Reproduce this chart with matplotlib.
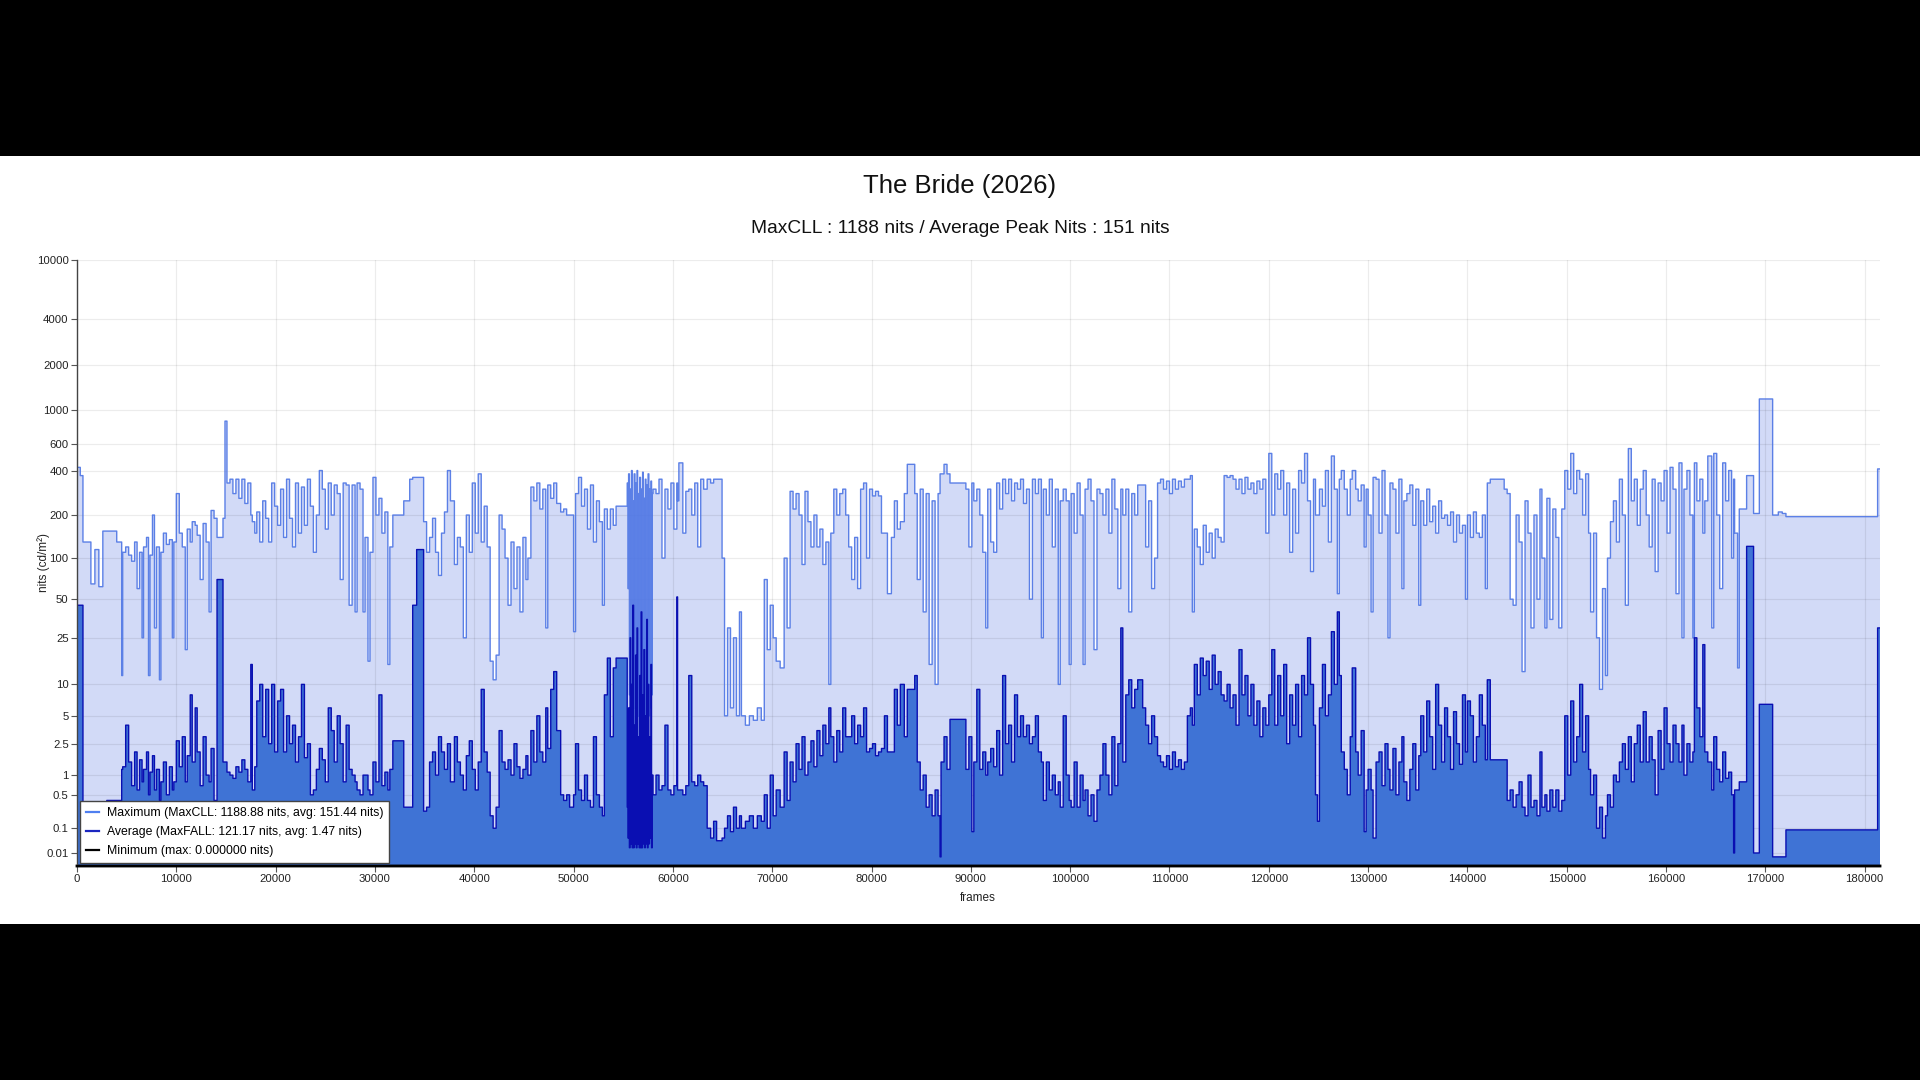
import numpy as np
import matplotlib
matplotlib.use("Agg")
import matplotlib.pyplot as plt
from matplotlib.lines import Line2D
from matplotlib.patches import Rectangle
from matplotlib.ticker import NullLocator

plt.rcParams['font.family'] = ['Liberation Sans', 'DejaVu Sans']

TITLE = "The Bride (2026)"
SUBTITLE = "MaxCLL : 1188 nits / Average Peak Nits : 151 nits"
LEGEND_LABELS = ["Maximum (MaxCLL: 1188.88 nits, avg: 151.44 nits)",
                 "Average (MaxFALL: 121.17 nits, avg: 1.47 nits)",
                 "Minimum (max: 0.000000 nits)"]
Y_TICKS = [0.01, 0.1, 0.5, 1, 2.5, 5, 10, 25, 50, 100, 200, 400, 600, 1000, 2000, 4000, 10000]
Y_TICK_LABELS = ["0.01", "0.1", "0.5", "1", "2.5", "5", "10", "25", "50", "100", "200",
                 "400", "600", "1000", "2000", "4000", "10000"]
X_TICKS = [0, 10000, 20000, 30000, 40000, 50000, 60000, 70000, 80000, 90000, 100000,
           110000, 120000, 130000, 140000, 150000, 160000, 170000, 180000]
LAST_FRAME = 181540

# ---- section A : frames 0 - 38600 ----
frames_a = [0, 330, 600, 1400, 1800, 2200, 2600, 3000, 4000, 4500,
            4600, 4900, 5200, 5500, 5800, 6050, 6300, 6550, 6700, 7000,
            7200, 7350, 7600, 7800, 8000, 8300, 8450, 8700, 9000, 9300,
            9600, 9750, 10000, 10300, 10600, 10900, 11100, 11400, 11600, 11900,
            12100, 12400, 12700, 13000, 13300, 13500, 13800, 14100, 14700, 14900,
            15100, 15400, 15700, 16000, 16300, 16600, 16900, 17200, 17500, 17650,
            17900, 18100, 18400, 18700, 19000, 19300, 19600, 19900, 20200, 20500,
            20800, 21100, 21400, 21700, 22000, 22300, 22600, 22900, 23200, 23500,
            23800, 24100, 24400, 24700, 25000, 25300, 25600, 25900, 26200, 26500,
            26800, 27100, 27400, 27700, 28000, 28200, 28500, 28800, 29000, 29300,
            29500, 29800, 30100, 30400, 30700, 31000, 31300, 31500, 31800, 32900,
            33500, 33800, 34200, 34900, 35200, 35500, 35800, 36100, 36400, 36700,
            37000, 37300, 37600, 38000, 38300]
max_a = [420, 370, 130, 65, 115, 62, 155, 155, 130, 12,
         110, 120, 105, 95, 130, 60, 110, 25, 120, 140,
         12, 105, 200, 30, 120, 11, 110, 150, 125, 135,
         25, 130, 280, 150, 120, 20, 160, 130, 180, 170,
         145, 70, 175, 130, 40, 215, 190, 140, 190, 850,
         330, 350, 280, 350, 260, 350, 240, 330, 200, 180,
         150, 210, 130, 250, 190, 130, 330, 230, 170, 300,
         140, 350, 190, 120, 330, 150, 310, 170, 350, 230,
         110, 200, 400, 300, 160, 330, 200, 320, 280, 70,
         330, 320, 45, 320, 40, 330, 300, 40, 140, 16,
         110, 360, 200, 260, 150, 210, 15, 120, 200, 250,
         350, 360, 360, 180, 110, 140, 190, 110, 75, 150,
         210, 400, 250, 90, 140]
avg_a = [45, 45, 0.05, 0.05, 0.05, 0.05, 0.05, 0.4, 0.4, 1.2,
         1.3, 4, 1.5, 0.7, 2, 0.6, 1.6, 0.8, 1.2, 2,
         0.5, 1.1, 1.8, 0.6, 1.2, 0.4, 0.8, 1.5, 0.5, 1.3,
         0.6, 0.8, 2.7, 1.3, 3, 0.8, 1.8, 8, 1.5, 6,
         2, 0.7, 3, 1, 0.8, 2.2, 0.4, 70, 1.5, 1.5,
         1.1, 1, 0.9, 1.3, 1.1, 1.6, 1.2, 0.8, 15, 0.6,
         1.3, 7, 10, 3, 9, 2.5, 10, 2, 7, 9,
         2, 5, 2.5, 4, 1.5, 3, 10, 1.7, 2.5, 0.5,
         0.6, 1.2, 2.2, 1.6, 0.8, 6, 3.5, 1.5, 5, 2.5,
         0.8, 4, 1.2, 1, 0.8, 0.6, 0.5, 1, 1, 0.6,
         0.5, 1.5, 0.8, 8, 0.7, 1.1, 0.6, 1.2, 2.7, 0.3,
         0.3, 45, 115, 0.25, 0.3, 1.5, 2, 1, 3, 2,
         1.2, 2.5, 0.8, 3, 1.5]

# ---- section B1 : frames 38600 - 55400 ----
frames_b1 = [38600, 38900, 39200, 39500, 39800, 40100, 40400, 40700, 41000, 41300,
             41600, 41900, 42200, 42500, 42800, 43100, 43400, 43700, 44000, 44300,
             44600, 44900, 45200, 45400, 45700, 46000, 46300, 46600, 46900, 47200,
             47400, 47700, 48000, 48300, 48700, 49000, 49300, 49600, 50000, 50200,
             50500, 50800, 51100, 51400, 51700, 52000, 52300, 52600, 52900, 53100,
             53400, 53700, 54000, 54280]
max_b1 = [120, 25, 200, 110, 330, 150, 380, 130, 230, 120,
          16, 11, 18, 200, 160, 100, 45, 130, 60, 120,
          40, 140, 70, 100, 310, 250, 330, 220, 300, 30,
          320, 260, 330, 240, 210, 220, 200, 200, 28, 280,
          360, 230, 300, 160, 320, 130, 250, 180, 45, 220,
          160, 220, 170, 230]
avg_b1 = [1.0, 0.6, 1.8, 2.7, 1.2, 0.6, 1.5, 9, 2, 1.1,
          0.2, 0.1, 0.3, 3.5, 1.5, 1.2, 1.6, 1.0, 2.5, 1.3,
          0.9, 1.2, 1.8, 1.0, 3.5, 1.5, 5, 2, 1.5, 6,
          2.2, 9, 13, 3.5, 0.5, 0.4, 0.5, 0.3, 0.5, 2.5,
          0.6, 0.4, 1.0, 0.4, 0.3, 3, 0.5, 0.3, 0.2, 8,
          17, 3, 14, 17]

# ---- strobe section : frames 55400 - 58000 ----
frames_s = [55400, 55480, 55540, 55620, 55690, 55750, 55830, 55900, 55960, 56040,
            56100, 56180, 56240, 56310, 56390, 56450, 56520, 56600, 56660, 56740,
            56800, 56870, 56950, 57010, 57080, 57160, 57220, 57290, 57370, 57430,
            57500, 57580, 57640, 57710, 57790, 57850, 57920]
max_s = [330, 60, 380, 8, 300, 5, 400, 3, 250, 6,
         380, 4, 330, 3, 400, 5, 280, 3, 360, 4,
         300, 3, 390, 5, 260, 3, 350, 4, 320, 3,
         380, 5, 300, 6, 340, 8, 280]
avg_s = [0.3, 0.05, 6, 0.02, 25, 0.03, 10, 0.02, 45, 0.02,
         4, 0.03, 18, 0.02, 30, 0.03, 3, 0.02, 12, 0.02,
         40, 0.02, 8, 0.03, 20, 0.02, 5, 0.03, 35, 0.02,
         10, 0.03, 3, 0.05, 15, 0.02, 1]

# ---- section B2 : frames 58000 - 77700 ----
frames_b2 = [58000, 58300, 58600, 58900, 59200, 59500, 59800, 60100, 60400, 60470,
             60600, 61000, 61300, 61600, 61900, 62200, 62500, 62800, 63100, 63450,
             63800, 64100, 64400, 64950, 65200, 65500, 65800, 66100, 66400, 66700,
             66900, 67300, 67700, 68100, 68500, 68900, 69200, 69500, 69800, 70100,
             70400, 70800, 71200, 71500, 71800, 72100, 72400, 72700, 73000, 73300,
             73600, 73900, 74200, 74500, 74800, 75100, 75400, 75700, 75900, 76200,
             76500, 76800, 77100, 77400]
max_b2 = [300, 280, 350, 100, 300, 220, 330, 160, 330, 250,
          450, 150, 290, 300, 200, 330, 120, 350, 300, 350,
          330, 350, 350, 100, 5, 30, 6, 25, 5, 40,
          5, 4, 5, 4.5, 6, 4.5, 70, 20, 45, 25,
          16, 14, 100, 30, 290, 220, 280, 200, 90, 290,
          180, 120, 200, 120, 160, 90, 130, 10, 150, 300,
          200, 280, 300, 200]
avg_b2 = [0.5, 1.0, 0.6, 0.7, 4, 0.6, 0.5, 0.7, 52, 0.6,
          0.6, 0.5, 0.7, 12, 0.8, 0.7, 1.0, 0.8, 0.7, 0.1,
          0.05, 0.15, 0.04, 0.05, 0.1, 0.2, 0.08, 0.3, 0.1, 0.2,
          0.1, 0.15, 0.2, 0.1, 0.2, 0.15, 0.5, 0.1, 1.0, 0.2,
          0.6, 0.3, 2, 0.4, 1.5, 0.8, 2.5, 1.2, 3, 1.0,
          1.5, 2.7, 1.3, 3.5, 1.8, 4, 2.5, 6, 3, 1.5,
          3.5, 2, 6, 3]

# ---- section C : frames 77700 - 116700 ----
frames_c = [77700, 78000, 78300, 78600, 78900, 79200, 79500, 79800, 80100, 80400,
            80700, 81000, 81300, 81600, 82000, 82300, 82600, 82900, 83300, 83600,
            84350, 84600, 84900, 85200, 85500, 85800, 86100, 86400, 86700, 86900,
            87000, 87300, 87600, 87900, 89500, 89800, 90100, 90300, 90600, 90900,
            91200, 91500, 91700, 92000, 92300, 92600, 92900, 93200, 93500, 93800,
            94100, 94400, 94700, 95000, 95300, 95600, 95900, 96200, 96500, 96800,
            97100, 97300, 97600, 97900, 98200, 98500, 98800, 99000, 99300, 99600,
            99900, 100100, 100400, 100700, 101000, 101300, 101500, 101800, 102100, 102400,
            102700, 103000, 103300, 103600, 103900, 104200, 104500, 104800, 105100, 105300,
            105600, 105900, 106200, 106500, 106800, 107300, 107600, 107900, 108200, 108500,
            108800, 109100, 109400, 109700, 110000, 110300, 110600, 110900, 111200, 111500,
            111800, 112100, 112300, 112500, 112800, 113100, 113400, 113700, 114000, 114300,
            114600, 114900, 115200, 115500, 115800, 116100, 116400]
max_c = [120, 70, 140, 60, 300, 330, 100, 300, 270, 290,
         270, 150, 150, 55, 140, 250, 160, 180, 280, 440,
         280, 70, 300, 40, 280, 15, 250, 10, 280, 380,
         380, 440, 380, 330, 300, 120, 330, 250, 300, 200,
         110, 30, 300, 130, 110, 330, 220, 350, 280, 350,
         250, 330, 300, 350, 240, 300, 50, 350, 280, 350,
         25, 300, 200, 350, 120, 300, 10, 250, 300, 250,
         15, 280, 150, 330, 200, 15, 300, 350, 250, 20,
         300, 280, 200, 300, 150, 350, 220, 60, 300, 200,
         300, 40, 280, 200, 320, 320, 120, 250, 60, 100,
         330, 350, 300, 340, 280, 350, 300, 340, 310, 350,
         350, 370, 40, 160, 120, 90, 170, 110, 150, 100,
         160, 140, 130, 370, 360, 370, 350]
avg_c = [3, 5, 2.5, 4, 3, 6, 2, 2.2, 2.5, 1.8,
         2.0, 2.2, 5, 2, 2, 9, 4, 10, 3, 9,
         12, 1.5, 0.6, 1.0, 0.3, 0.5, 0.2, 0.6, 0.2, 0.005,
         1.5, 3, 1.2, 4.6, 1.2, 3, 0.08, 1.5, 9, 1.2,
         2, 1.0, 1.5, 2.2, 1.3, 3.5, 1.0, 12, 2.5, 4,
         1.5, 8, 3, 5, 3, 4, 2.5, 3, 5, 2,
         1.5, 0.4, 1.5, 0.6, 1.0, 0.5, 0.8, 0.3, 5, 1.0,
         0.4, 0.3, 1.5, 0.3, 1.0, 0.4, 0.6, 0.2, 0.5, 0.15,
         0.6, 1.0, 2.5, 1.0, 0.5, 3, 0.7, 2.5, 30, 1.5,
         8, 11, 6, 9, 11, 6, 4, 2.5, 5, 3,
         1.8, 1.5, 1.3, 1.8, 1.2, 2, 1.3, 1.6, 1.2, 1.5,
         5, 6, 4, 15, 8, 17, 12, 16, 9, 18,
         10, 13, 8, 7, 10, 6, 8]

# ---- section D : frames 116700 - 161000 ----
frames_d = [116700, 117000, 117300, 117600, 117900, 118200, 118500, 118800, 119100, 119400,
            119700, 120000, 120300, 120600, 120900, 121200, 121500, 121800, 122100, 122400,
            122700, 123000, 123300, 123600, 123900, 124200, 124500, 124700, 124900, 125100,
            125400, 125700, 126000, 126300, 126600, 126900, 127100, 127300, 127600, 127900,
            128200, 128400, 128750, 129000, 129300, 129600, 129800, 130000, 130300, 130500,
            130800, 131100, 131400, 131700, 132000, 132200, 132500, 132800, 133100, 133400,
            133600, 133900, 134200, 134500, 134800, 135100, 135300, 135600, 135900, 136200,
            136500, 136800, 137100, 137400, 137700, 138000, 138300, 138600, 138900, 139200,
            139500, 139800, 140000, 140300, 140600, 140900, 141200, 141500, 141800, 142000,
            142300, 143700, 144000, 144300, 144600, 144900, 145200, 145500, 145800, 146100,
            146400, 146700, 147000, 147300, 147500, 147800, 148000, 148300, 148600, 148900,
            149200, 149500, 149800, 150100, 150400, 150700, 151000, 151300, 151600, 151900,
            152200, 152400, 152700, 153000, 153300, 153600, 153900, 154100, 154400, 154700,
            155000, 155300, 155600, 155900, 156200, 156500, 156800, 157100, 157400, 157700,
            158000, 158300, 158600, 158900, 159200, 159500, 159800, 160100, 160400, 160700]
max_d = [300, 350, 280, 360, 300, 330, 280, 340, 300, 350,
         150, 520, 200, 380, 300, 400, 200, 330, 110, 300,
         150, 400, 330, 520, 250, 80, 350, 200, 200, 300,
         230, 400, 130, 500, 300, 55, 350, 400, 300, 200,
         350, 400, 300, 250, 320, 120, 300, 200, 40, 360,
         350, 150, 400, 200, 25, 330, 300, 150, 350, 60,
         250, 280, 320, 170, 300, 45, 250, 170, 300, 180,
         230, 150, 250, 190, 200, 170, 210, 130, 200, 150,
         170, 50, 200, 140, 210, 150, 140, 200, 60, 330,
         350, 300, 280, 50, 45, 200, 130, 13, 250, 150,
         30, 200, 50, 300, 100, 30, 260, 35, 220, 140,
         30, 220, 400, 300, 520, 280, 400, 350, 200, 380,
         150, 40, 150, 25, 9, 60, 12, 100, 180, 250,
         130, 350, 200, 45, 560, 250, 350, 170, 300, 400,
         200, 120, 350, 80, 330, 250, 400, 150, 420, 300]
avg_d = [4, 20, 8, 12, 5, 10, 4, 7, 3, 6,
         4, 8, 20, 4, 12, 5, 15, 2.5, 8, 4,
         10, 3, 12, 8, 25, 10, 4, 0.5, 0.15, 6,
         15, 5, 8, 28, 10, 40, 12, 2, 1.2, 0.5,
         3, 14, 2, 1.0, 3.5, 0.08, 0.6, 1.2, 0.6, 0.05,
         1.5, 2, 0.7, 2.5, 1.2, 0.6, 2.2, 0.5, 1.5, 3,
         0.8, 0.4, 1.2, 2.5, 0.6, 1.8, 5, 2, 7, 3,
         1.2, 10, 4, 1.5, 6, 3, 1.2, 5.5, 2.5, 1.4,
         8, 2, 7, 5, 1.5, 3, 8, 4, 1.6, 11,
         1.6, 1.6, 0.4, 0.6, 0.3, 0.5, 0.8, 0.3, 0.2, 1.0,
         0.3, 0.4, 0.2, 2, 0.3, 0.5, 0.25, 0.6, 0.3, 0.6,
         0.25, 0.4, 5, 1.0, 7, 1.5, 3, 10, 2, 5,
         1.2, 0.5, 1.0, 0.1, 0.3, 0.05, 0.2, 0.5, 0.3, 1.0,
         0.8, 1.5, 2.5, 1.2, 3, 0.8, 2.5, 4, 1.5, 5.5,
         1.5, 3, 1.6, 0.5, 3.5, 1.2, 6, 2.5, 1.5, 4]

# ---- section E : frames 161000 - end ----
frames_e = [161000, 161300, 161600, 161800, 162100, 162400, 162700, 162850, 163100, 163400,
            163700, 163900, 164200, 164600, 164800, 165100, 165400, 165700, 166000, 166300,
            166600, 166800, 166900, 167200, 167370, 168110, 168810, 169390, 170730, 171300,
            171700, 172070, 181300]
max_e = [55, 450, 25, 300, 400, 200, 25, 450, 250, 350,
         150, 250, 500, 30, 520, 200, 60, 450, 250, 400,
         100, 350, 150, 14, 220, 370, 205, 1188.88, 200, 210,
         205, 195, 410]
avg_e = [2.5, 1.5, 4, 1.0, 2.5, 1.5, 2, 25, 6, 3,
         22, 2, 1.5, 0.6, 3, 1.2, 0.8, 2, 0.9, 1.1,
         0.5, 0.01, 0.6, 0.6, 0.8, 121.17, 0.01, 6.5, 0.005, 0.005,
         0.005, 0.09, 30]

frames = frames_a + frames_b1 + frames_s + frames_b2 + frames_c + frames_d + frames_e
max_nits = max_a + max_b1 + max_s + max_b2 + max_c + max_d + max_e
avg_nits = avg_a + avg_b1 + avg_s + avg_b2 + avg_c + avg_d + avg_e
min_nits = [0.0] * len(frames)

# ---- PQ (SMPTE ST 2084) axis scale ----
M1 = 2610 / 16384
M2 = 2523 / 4096 * 128
C1 = 3424 / 4096
C2 = 2413 / 4096 * 32
C3 = 2392 / 4096 * 32


def pq_forward(v):
    y = np.clip(np.asarray(v, dtype=float), 0, None) / 10000.0
    ym = np.power(y, M1)
    return np.power((C1 + C2 * ym) / (1 + C3 * ym), M2)


def pq_inverse(e):
    e = np.clip(np.asarray(e, dtype=float), 0, 1.2)
    ep = np.power(e, 1 / M2)
    num = np.maximum(ep - C1, 0)
    den = np.maximum(C2 - C3 * ep, 1e-9)
    return 10000.0 * np.power(num / den, 1 / M1)


fig = plt.figure(figsize=(19.2, 10.8), dpi=100, facecolor='black')
bg = Rectangle((0, 156 / 1080), 1, 768 / 1080, transform=fig.transFigure,
               facecolor='white', edgecolor='none', zorder=-10)
fig.add_artist(bg)

ax = fig.add_axes([77 / 1920, 1 - 866 / 1080, 1803 / 1920, 606 / 1080])
ax.set_facecolor('white')
ax.set_yscale('function', functions=(pq_forward, pq_inverse))

xe = np.array(frames + [LAST_FRAME], dtype=float)
mx = np.array(max_nits + [max_nits[-1]], dtype=float)
av = np.array(avg_nits + [avg_nits[-1]], dtype=float)
mn = np.array(min_nits + [min_nits[-1]], dtype=float)

ax.fill_between(xe, 0, mx, step='post', facecolor='#d2daf7', edgecolor='none', zorder=2)
ax.step(xe, mx, where='post', color='#4c74e4', lw=1.0, alpha=0.9, zorder=3)
ax.fill_between(xe, 0, av, step='post', facecolor='#3f73d5', edgecolor='none', zorder=4)
ax.step(xe, av, where='post', color='#0a0fb2', lw=1.0, zorder=5)
ax.step(xe, mn, where='post', color='black', lw=2.0, zorder=6, clip_on=False)

ax.set_xlim(0, LAST_FRAME)
ax.set_ylim(0, 10000)
ax.set_yticks(Y_TICKS)
ax.set_yticklabels(Y_TICK_LABELS)
ax.yaxis.set_minor_locator(NullLocator())
ax.set_xticks(X_TICKS)
ax.set_xticklabels([str(t) for t in X_TICKS])
ax.xaxis.set_minor_locator(NullLocator())

ax.grid(True, color='black', alpha=0.075, lw=0.9, zorder=7)
ax.set_axisbelow(False)
ax.tick_params(axis='both', labelsize=8.2, length=4, width=0.8, color='#555555',
               labelcolor='#222222', pad=2)
for s in ('top', 'right'):
    ax.spines[s].set_visible(False)
ax.spines['left'].set_color('#444444')
ax.spines['left'].set_linewidth(1.0)
ax.spines['bottom'].set_color('black')
ax.spines['bottom'].set_linewidth(1.5)
ax.spines['left'].set_zorder(8)
ax.spines['bottom'].set_zorder(8)

fig.text(0.5, 1 - 192.7 / 1080, TITLE, ha='center', va='baseline', fontsize=18.5, color='#111111')
fig.text(0.5, 1 - 232.7 / 1080, SUBTITLE, ha='center', va='baseline', fontsize=13.8, color='#111111')
fig.text(978 / 1920, 1 - 898 / 1080, 'frames', ha='center', va='center', fontsize=8.5, color='#222222')
fig.text(44 / 1920, 1 - 563 / 1080, 'nits (cd/m²)', ha='center', va='center', rotation=90,
         fontsize=8.5, color='#222222')

handles = [Line2D([], [], color='#4f7ff0', lw=1.6),
           Line2D([], [], color='#1b26c0', lw=1.6),
           Line2D([], [], color='black', lw=1.6)]
leg = ax.legend(handles, LEGEND_LABELS, loc='lower left', bbox_to_anchor=(0.0015, 0.005),
                fontsize=8.85, frameon=True, fancybox=False, framealpha=1.0,
                edgecolor='#444444', handlelength=1.1, handletextpad=0.6,
                labelspacing=0.55, borderpad=0.5, borderaxespad=0)
leg.get_frame().set_linewidth(1.0)
leg.set_zorder(20)

fig.savefig('out.png', dpi=100, facecolor='black')
